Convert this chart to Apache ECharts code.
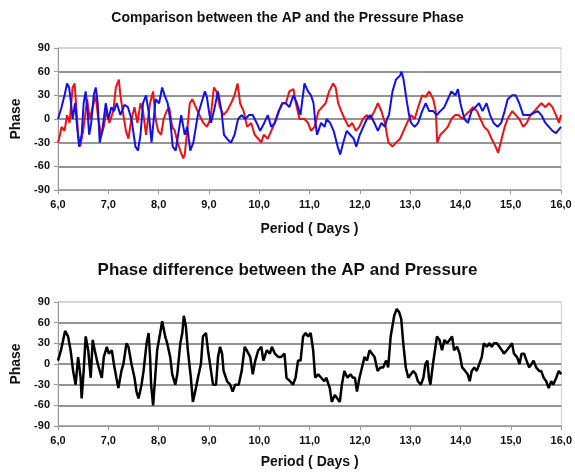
<!DOCTYPE html>
<html><head><meta charset="utf-8">
<script src="https://cdn.jsdelivr.net/npm/echarts@6/dist/echarts.min.js"></script>
<style>html,body{margin:0;padding:0;background:#fff}#c{width:575px;height:473px}</style>
</head><body><div id="c"></div>
<script>
const xTicks = {min: 6, max: 16, step: 1};
const yTicks = {min: -90, max: 90, step: 30};
const topTitle = 'Comparison between the AP and the Pressure Phase';
const bottomTitle = 'Phase difference between the AP and Pressure';
const xName = 'Period ( Days )';
const yName = 'Phase';

// blue series [day, phase]
const apPhase = [[6.0,0],[6.07,15],[6.13,30],[6.18,45],[6.22,40],[6.26,20],[6.29,0],[6.34,20],[6.38,-10],[6.42,-35],
[6.47,-20],[6.51,20],[6.55,35],[6.58,15],[6.62,-20],[6.66,-5],[6.71,30],[6.75,40],[6.79,20],[6.83,-30],
[6.88,-15],[6.95,20],[7.0,0],[7.06,15],[7.11,10],[7.17,20],[7.24,5],[7.32,18],[7.39,15],[7.46,0],
[7.54,-35],[7.59,-40],[7.64,-20],[7.69,20],[7.75,30],[7.8,10],[7.86,-30],[7.94,25],[8.01,20],[8.07,40],
[8.12,30],[8.18,20],[8.23,0],[8.28,-35],[8.34,-40],[8.4,-15],[8.45,5],[8.52,-20],[8.57,-10],[8.63,-40],
[8.69,-30],[8.78,5],[8.85,20],[8.92,35],[8.96,28],[9.0,10],[9.04,-5],[9.1,10],[9.18,35],[9.25,10],
[9.3,-20],[9.36,-25],[9.44,-30],[9.51,-20],[9.58,0],[9.65,5],[9.72,0],[9.8,5],[9.87,5],[9.95,-5],
[10.02,-15],[10.1,-5],[10.17,5],[10.24,-10],[10.31,-5],[10.39,10],[10.46,20],[10.53,20],[10.6,15],[10.68,30],
[10.75,20],[10.82,5],[10.9,45],[10.97,35],[11.03,30],[11.08,20],[11.11,0],[11.15,-20],[11.23,-5],[11.3,-10],
[11.34,0],[11.41,-5],[11.48,-15],[11.56,-35],[11.61,-45],[11.67,-30],[11.74,-15],[11.81,-20],[11.88,-25],[11.93,-35],
[12.0,-20],[12.07,-10],[12.14,0],[12.21,5],[12.29,-5],[12.36,-15],[12.43,-5],[12.5,-10],[12.54,0],[12.58,5],
[12.65,35],[12.72,50],[12.8,55],[12.83,60],[12.87,50],[12.94,20],[12.98,5],[13.02,-5],[13.09,-10],[13.16,-5],
[13.24,10],[13.31,20],[13.38,10],[13.46,10],[13.53,5],[13.6,10],[13.68,15],[13.75,25],[13.82,35],[13.9,30],
[13.95,38],[14.0,20],[14.08,0],[14.15,-5],[14.22,10],[14.3,15],[14.37,20],[14.44,10],[14.52,20],[14.59,5],
[14.66,-5],[14.74,-10],[14.81,-5],[14.88,10],[14.94,25],[15.03,30],[15.1,30],[15.17,20],[15.25,5],[15.32,5],
[15.39,5],[15.47,8],[15.54,10],[15.61,5],[15.69,-5],[15.76,-10],[15.83,-15],[15.9,-18],[16.0,-10]];

// red series [day, phase]
const pressurePhase = [[6.0,-30],[6.04,-20],[6.07,-10],[6.13,-15],[6.18,5],[6.23,-5],[6.29,40],[6.33,45],[6.37,10],[6.4,-20],
[6.44,-35],[6.5,-15],[6.55,10],[6.58,25],[6.63,0],[6.69,15],[6.75,30],[6.8,0],[6.86,-20],[6.91,-10],
[6.96,10],[7.02,-5],[7.1,10],[7.15,40],[7.21,50],[7.24,30],[7.3,5],[7.35,-15],[7.4,-25],[7.46,0],
[7.52,15],[7.58,-5],[7.64,20],[7.69,10],[7.75,-20],[7.83,20],[7.89,35],[7.94,0],[7.99,-15],[8.05,-20],
[8.1,0],[8.16,10],[8.21,15],[8.27,-10],[8.32,-15],[8.38,-30],[8.43,-40],[8.49,-50],[8.52,-45],[8.56,-20],
[8.62,20],[8.67,25],[8.74,15],[8.81,5],[8.89,-5],[8.96,-10],[9.03,0],[9.1,40],[9.15,35],[9.22,15],
[9.29,5],[9.36,10],[9.44,20],[9.51,30],[9.57,45],[9.62,20],[9.69,10],[9.76,-10],[9.84,-5],[9.91,-20],
[9.98,-25],[10.04,-30],[10.09,-20],[10.17,-25],[10.24,-15],[10.31,-5],[10.39,10],[10.46,20],[10.53,20],[10.6,35],
[10.68,38],[10.73,20],[10.8,0],[10.9,0],[10.97,-5],[11.03,-15],[11.1,-10],[11.18,10],[11.25,15],[11.32,20],
[11.39,35],[11.47,45],[11.52,40],[11.57,20],[11.63,10],[11.7,0],[11.78,-10],[11.85,-5],[11.92,-15],[11.99,-10],
[12.06,0],[12.14,5],[12.21,0],[12.29,10],[12.36,20],[12.43,10],[12.5,-5],[12.54,-20],[12.57,-30],[12.65,-35],
[12.72,-30],[12.8,-25],[12.87,-15],[12.94,-5],[13.02,5],[13.09,0],[13.16,15],[13.24,30],[13.31,28],[13.38,35],
[13.46,25],[13.51,10],[13.54,-30],[13.6,-20],[13.68,-15],[13.75,-10],[13.82,0],[13.9,5],[13.96,5],[14.04,0],
[14.1,5],[14.18,10],[14.25,15],[14.33,10],[14.4,0],[14.47,-10],[14.55,-15],[14.62,-25],[14.7,-35],[14.75,-43],
[14.8,-30],[14.88,-10],[14.94,0],[15.03,10],[15.1,5],[15.17,0],[15.25,-10],[15.32,-5],[15.39,5],[15.47,10],
[15.54,15],[15.61,20],[15.69,15],[15.76,20],[15.83,15],[15.9,5],[15.96,-5],[16.0,5]];

// black series [day, phase difference]
const phaseDiff = [[6.0,5],[6.06,20],[6.14,48],[6.2,40],[6.25,20],[6.3,-10],[6.35,-30],[6.4,10],[6.45,-20],[6.47,-50],
[6.51,-10],[6.55,40],[6.6,20],[6.65,-20],[6.69,35],[6.73,20],[6.79,0],[6.87,-20],[6.91,10],[6.97,25],
[7.01,15],[7.07,20],[7.11,0],[7.16,-20],[7.2,-35],[7.26,-10],[7.3,0],[7.36,30],[7.4,25],[7.46,0],
[7.52,-20],[7.56,-40],[7.6,-50],[7.66,-30],[7.7,-10],[7.76,30],[7.8,45],[7.83,10],[7.85,-30],[7.89,-60],
[7.93,-20],[7.97,20],[8.03,45],[8.07,62],[8.13,40],[8.17,30],[8.23,10],[8.27,-15],[8.33,-30],[8.37,-15],
[8.43,30],[8.47,45],[8.5,70],[8.54,55],[8.58,20],[8.64,-20],[8.68,-55],[8.74,-35],[8.78,-20],[8.84,0],
[8.88,40],[8.94,45],[8.98,20],[9.04,-10],[9.08,-30],[9.14,-30],[9.18,10],[9.22,25],[9.26,15],[9.29,-10],
[9.36,-25],[9.42,-30],[9.47,-40],[9.52,-30],[9.59,-30],[9.65,-10],[9.71,25],[9.75,20],[9.82,10],[9.87,-15],
[9.92,5],[9.98,20],[10.04,25],[10.08,5],[10.15,20],[10.21,15],[10.25,25],[10.31,15],[10.38,10],[10.43,10],
[10.5,15],[10.54,-20],[10.61,-25],[10.67,-30],[10.72,-20],[10.77,5],[10.82,5],[10.87,40],[10.92,45],[10.97,40],
[11.02,45],[11.07,20],[11.11,-20],[11.17,-15],[11.23,-20],[11.29,-25],[11.33,-20],[11.4,-35],[11.44,-55],[11.5,-45],
[11.55,-50],[11.6,-55],[11.64,-30],[11.69,-10],[11.75,-20],[11.81,-15],[11.86,-20],[11.9,-20],[11.94,-40],[11.99,-20],
[12.04,-5],[12.09,10],[12.14,5],[12.19,20],[12.24,15],[12.29,10],[12.35,-10],[12.41,-5],[12.46,-5],[12.52,5],
[12.56,-5],[12.61,40],[12.68,70],[12.73,80],[12.78,75],[12.82,65],[12.86,30],[12.91,-5],[12.96,-20],[13.01,-15],
[13.06,-10],[13.11,-15],[13.15,-25],[13.21,-30],[13.26,-20],[13.3,0],[13.34,5],[13.37,-20],[13.4,-30],[13.45,0],
[13.49,20],[13.53,40],[13.58,35],[13.63,20],[13.68,35],[13.73,30],[13.78,35],[13.83,40],[13.87,20],[13.93,25],
[13.98,15],[14.03,-5],[14.09,-10],[14.14,-15],[14.18,-25],[14.22,-10],[14.27,-5],[14.32,-10],[14.37,0],[14.42,10],
[14.46,30],[14.52,25],[14.57,30],[14.62,25],[14.66,30],[14.72,30],[14.77,25],[14.82,20],[14.86,15],[14.92,20],
[14.97,25],[15.02,30],[15.06,15],[15.12,10],[15.17,0],[15.21,15],[15.26,15],[15.31,5],[15.36,-5],[15.41,0],
[15.45,5],[15.5,-5],[15.56,-10],[15.6,-10],[15.65,-20],[15.7,-25],[15.75,-35],[15.8,-25],[15.84,-30],[15.9,-20],
[15.95,-10],[16.0,-15]];

const FONT = 'Liberation Sans, Arial, sans-serif';
function xAxisCfg(idx, gap) {
  return {
    type: 'value', gridIndex: idx, min: xTicks.min, max: xTicks.max, interval: xTicks.step,
    name: xName, nameLocation: 'middle', nameGap: gap,
    nameTextStyle: {fontFamily: FONT, fontWeight: 'bold', fontSize: 14, color: '#111'},
    axisLine: {show: true, onZero: false, lineStyle: {color: '#999', width: 1}},
    axisTick: {show: true, length: 4, lineStyle: {color: '#999'}},
    axisLabel: {fontFamily: FONT, fontWeight: 'bold', fontSize: 11, color: '#111', margin: 9,
      formatter: v => v.toFixed(1).replace('.', ',')},
    splitLine: {show: false}
  };
}
function yAxisCfg(idx) {
  return {
    type: 'value', gridIndex: idx, min: yTicks.min, max: yTicks.max, interval: yTicks.step,
    name: yName, nameLocation: 'middle', nameGap: 33, nameRotate: 90,
    nameTextStyle: {fontFamily: FONT, fontWeight: 'bold', fontSize: 14, color: '#111'},
    axisLine: {show: true, lineStyle: {color: '#999', width: 1}},
    axisTick: {show: true, length: 4, lineStyle: {color: '#999'}},
    axisLabel: {fontFamily: FONT, fontWeight: 'bold', fontSize: 11, color: '#111', margin: 8},
    splitLine: {show: true, lineStyle: {color: ['#999','#707070','#707070','#707070','#707070','#707070','#d0d0d0'], width: 1.5}}
  };
}
const chart = echarts.init(document.getElementById('c'), null, {renderer: 'canvas'});
chart.setOption({
  animation: false,
  backgroundColor: '#fff',
  title: [
    {text: topTitle, left: 'center', top: 6, textStyle: {fontFamily: FONT, fontWeight: 'bold', fontSize: 14, color: '#111'}},
    {text: bottomTitle, left: 'center', top: 257, textStyle: {fontFamily: FONT, fontWeight: 'bold', fontSize: 17, color: '#111'}}
  ],
  grid: [
    {left: 58, right: 14, top: 48, height: 142, show: true, borderColor: '#d0d0d0', borderWidth: 1, backgroundColor: 'transparent'},
    {left: 58, right: 10, top: 302, height: 124, show: true, borderColor: '#d0d0d0', borderWidth: 1, backgroundColor: 'transparent'}
  ],
  xAxis: [xAxisCfg(0, 32), xAxisCfg(1, 29)],
  yAxis: [yAxisCfg(0), yAxisCfg(1)],
  series: [
    {type: 'line', xAxisIndex: 0, yAxisIndex: 0, data: pressurePhase, showSymbol: false, lineStyle: {color: '#ee1111', width: 2}},
    {type: 'line', xAxisIndex: 0, yAxisIndex: 0, data: apPhase, showSymbol: false, lineStyle: {color: '#1111ee', width: 2}},
    {type: 'line', xAxisIndex: 1, yAxisIndex: 1, data: phaseDiff, showSymbol: false, lineStyle: {color: '#000', width: 2.5}}
  ]
});
</script></body></html>
